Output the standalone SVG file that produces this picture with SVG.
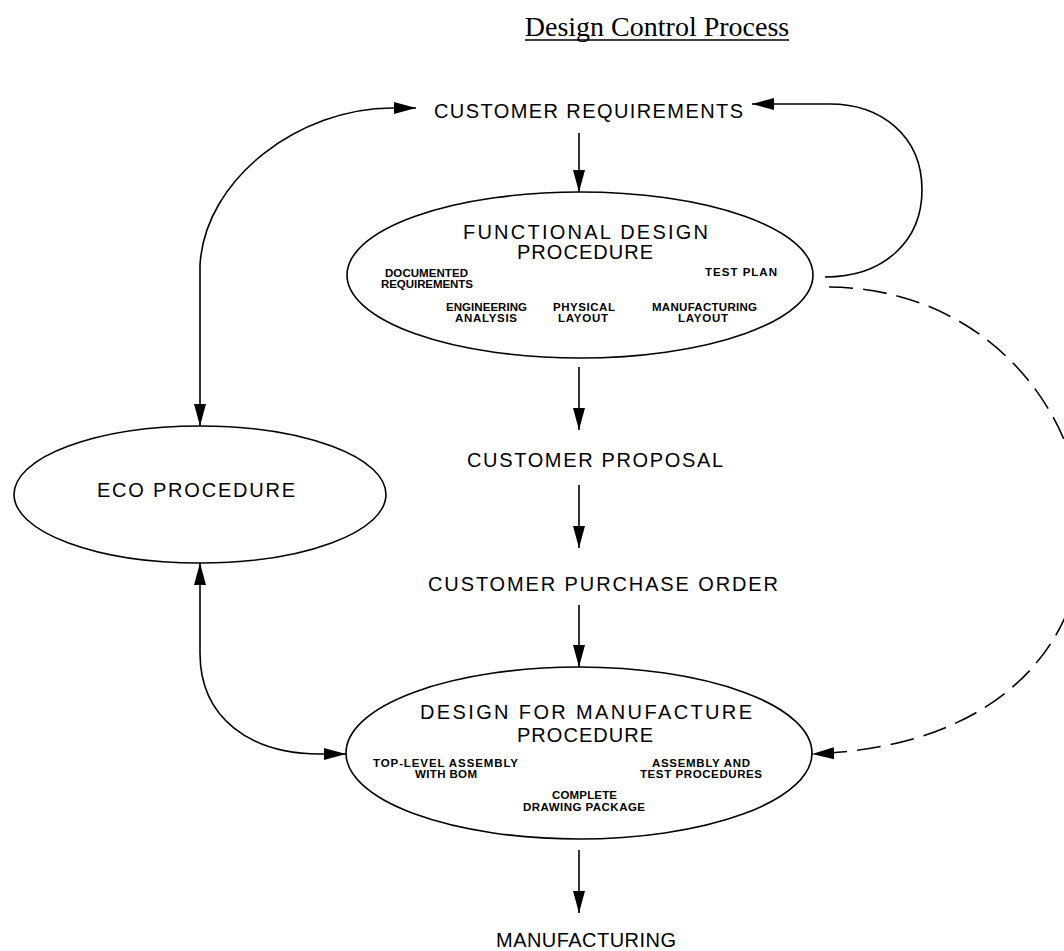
<svg xmlns="http://www.w3.org/2000/svg" width="1064" height="951" viewBox="0 0 1064 951">
<defs>
<style>
.node{fill:#fff;stroke:#000;stroke-width:1.6}
.big{font-family:"Liberation Sans",Arial,sans-serif;font-size:20px;fill:#000}
.sm{font-family:"Liberation Sans",Arial,sans-serif;font-size:11.5px;font-weight:bold;fill:#000}
.conn{fill:none;stroke:#000;stroke-width:1.6}
.dash{stroke-dasharray:24 10}
.title{font-family:"Liberation Serif","Times New Roman",serif;font-size:28px;fill:#000}
</style>
<marker id="ah" markerUnits="userSpaceOnUse" markerWidth="24" markerHeight="14" refX="22" refY="6" orient="auto-start-reverse" viewBox="0 0 24 12">
<path d="M0,0 L22,6 L0,12 Z" fill="#000"/>
</marker>
</defs>
<rect width="1064" height="951" fill="#fff"/>
<g id="title">
<text class="title" x="657" y="36" text-anchor="middle">Design Control Process</text>
<line x1="525" y1="40" x2="789" y2="40" stroke="#000" stroke-width="1.3"/>
</g>
<g id="connectors">
<path class="conn" d="M579,133 L579,192" marker-end="url(#ah)"/>
<path class="conn" d="M579,367 L579,430" marker-end="url(#ah)"/>
<path class="conn" d="M579,485 L579,548" marker-end="url(#ah)"/>
<path class="conn" d="M579,605 L579,667" marker-end="url(#ah)"/>
<path class="conn" d="M579,850 L579,913" marker-end="url(#ah)"/>
<path class="conn" d="M200,426 L200,265 C205,178 300,108 392,108 L416,108" marker-start="url(#ah)" marker-end="url(#ah)"/>
<path class="conn" d="M200,563 L200,653 C200,718 250,754 320,754 L346,754" marker-start="url(#ah)" marker-end="url(#ah)"/>
<path class="conn" d="M825,277 C885,277 922,240 922,190 C922,135 880,104 830,104 L752,104" marker-end="url(#ah)"/>
<path class="conn dash" d="M829,287 C1130,290 1210,740 812,754" marker-end="url(#ah)"/>
</g>
<g id="customer-requirements">
<text class="big" x="434" y="118" textLength="309" lengthAdjust="spacing">CUSTOMER REQUIREMENTS</text>
</g>
<g id="functional-design">
<ellipse class="node" cx="580" cy="275" rx="233" ry="83"/>
<text class="big" x="463" y="239" textLength="245" lengthAdjust="spacing">FUNCTIONAL DESIGN</text>
<text class="big" x="517" y="259" textLength="136" lengthAdjust="spacing">PROCEDURE</text>
<text class="sm" x="385" y="277" textLength="83" lengthAdjust="spacing">DOCUMENTED</text>
<text class="sm" x="381" y="288" textLength="92" lengthAdjust="spacing">REQUIREMENTS</text>
<text class="sm" x="705" y="276" textLength="72" lengthAdjust="spacing">TEST PLAN</text>
<text class="sm" x="446" y="311" textLength="81" lengthAdjust="spacing">ENGINEERING</text>
<text class="sm" x="455" y="322" textLength="62" lengthAdjust="spacing">ANALYSIS</text>
<text class="sm" x="553" y="311" textLength="62" lengthAdjust="spacing">PHYSICAL</text>
<text class="sm" x="558" y="322" textLength="50" lengthAdjust="spacing">LAYOUT</text>
<text class="sm" x="652" y="311" textLength="105" lengthAdjust="spacing">MANUFACTURING</text>
<text class="sm" x="678" y="322" textLength="50" lengthAdjust="spacing">LAYOUT</text>
</g>
<g id="customer-proposal">
<text class="big" x="467" y="467" textLength="256" lengthAdjust="spacing">CUSTOMER PROPOSAL</text>
</g>
<g id="customer-purchase-order">
<text class="big" x="428" y="591" textLength="350" lengthAdjust="spacing">CUSTOMER PURCHASE ORDER</text>
</g>
<g id="eco-procedure">
<ellipse class="node" cx="200" cy="494.5" rx="186" ry="68.5"/>
<text class="big" x="97" y="497" textLength="198" lengthAdjust="spacing">ECO PROCEDURE</text>
</g>
<g id="design-for-manufacture">
<ellipse class="node" cx="579" cy="753" rx="233" ry="86"/>
<text class="big" x="420" y="719" textLength="332" lengthAdjust="spacing">DESIGN FOR MANUFACTURE</text>
<text class="big" x="517" y="742" textLength="136" lengthAdjust="spacing">PROCEDURE</text>
<text class="sm" x="373" y="767" textLength="145" lengthAdjust="spacing">TOP-LEVEL ASSEMBLY</text>
<text class="sm" x="415" y="778" textLength="62" lengthAdjust="spacing">WITH BOM</text>
<text class="sm" x="652" y="767" textLength="98" lengthAdjust="spacing">ASSEMBLY AND</text>
<text class="sm" x="640" y="778" textLength="122" lengthAdjust="spacing">TEST PROCEDURES</text>
<text class="sm" x="552" y="799" textLength="65" lengthAdjust="spacing">COMPLETE</text>
<text class="sm" x="523" y="811" textLength="122" lengthAdjust="spacing">DRAWING PACKAGE</text>
</g>
<g id="manufacturing">
<text class="big" x="496" y="947" textLength="180" lengthAdjust="spacing">MANUFACTURING</text>
</g>
</svg>
